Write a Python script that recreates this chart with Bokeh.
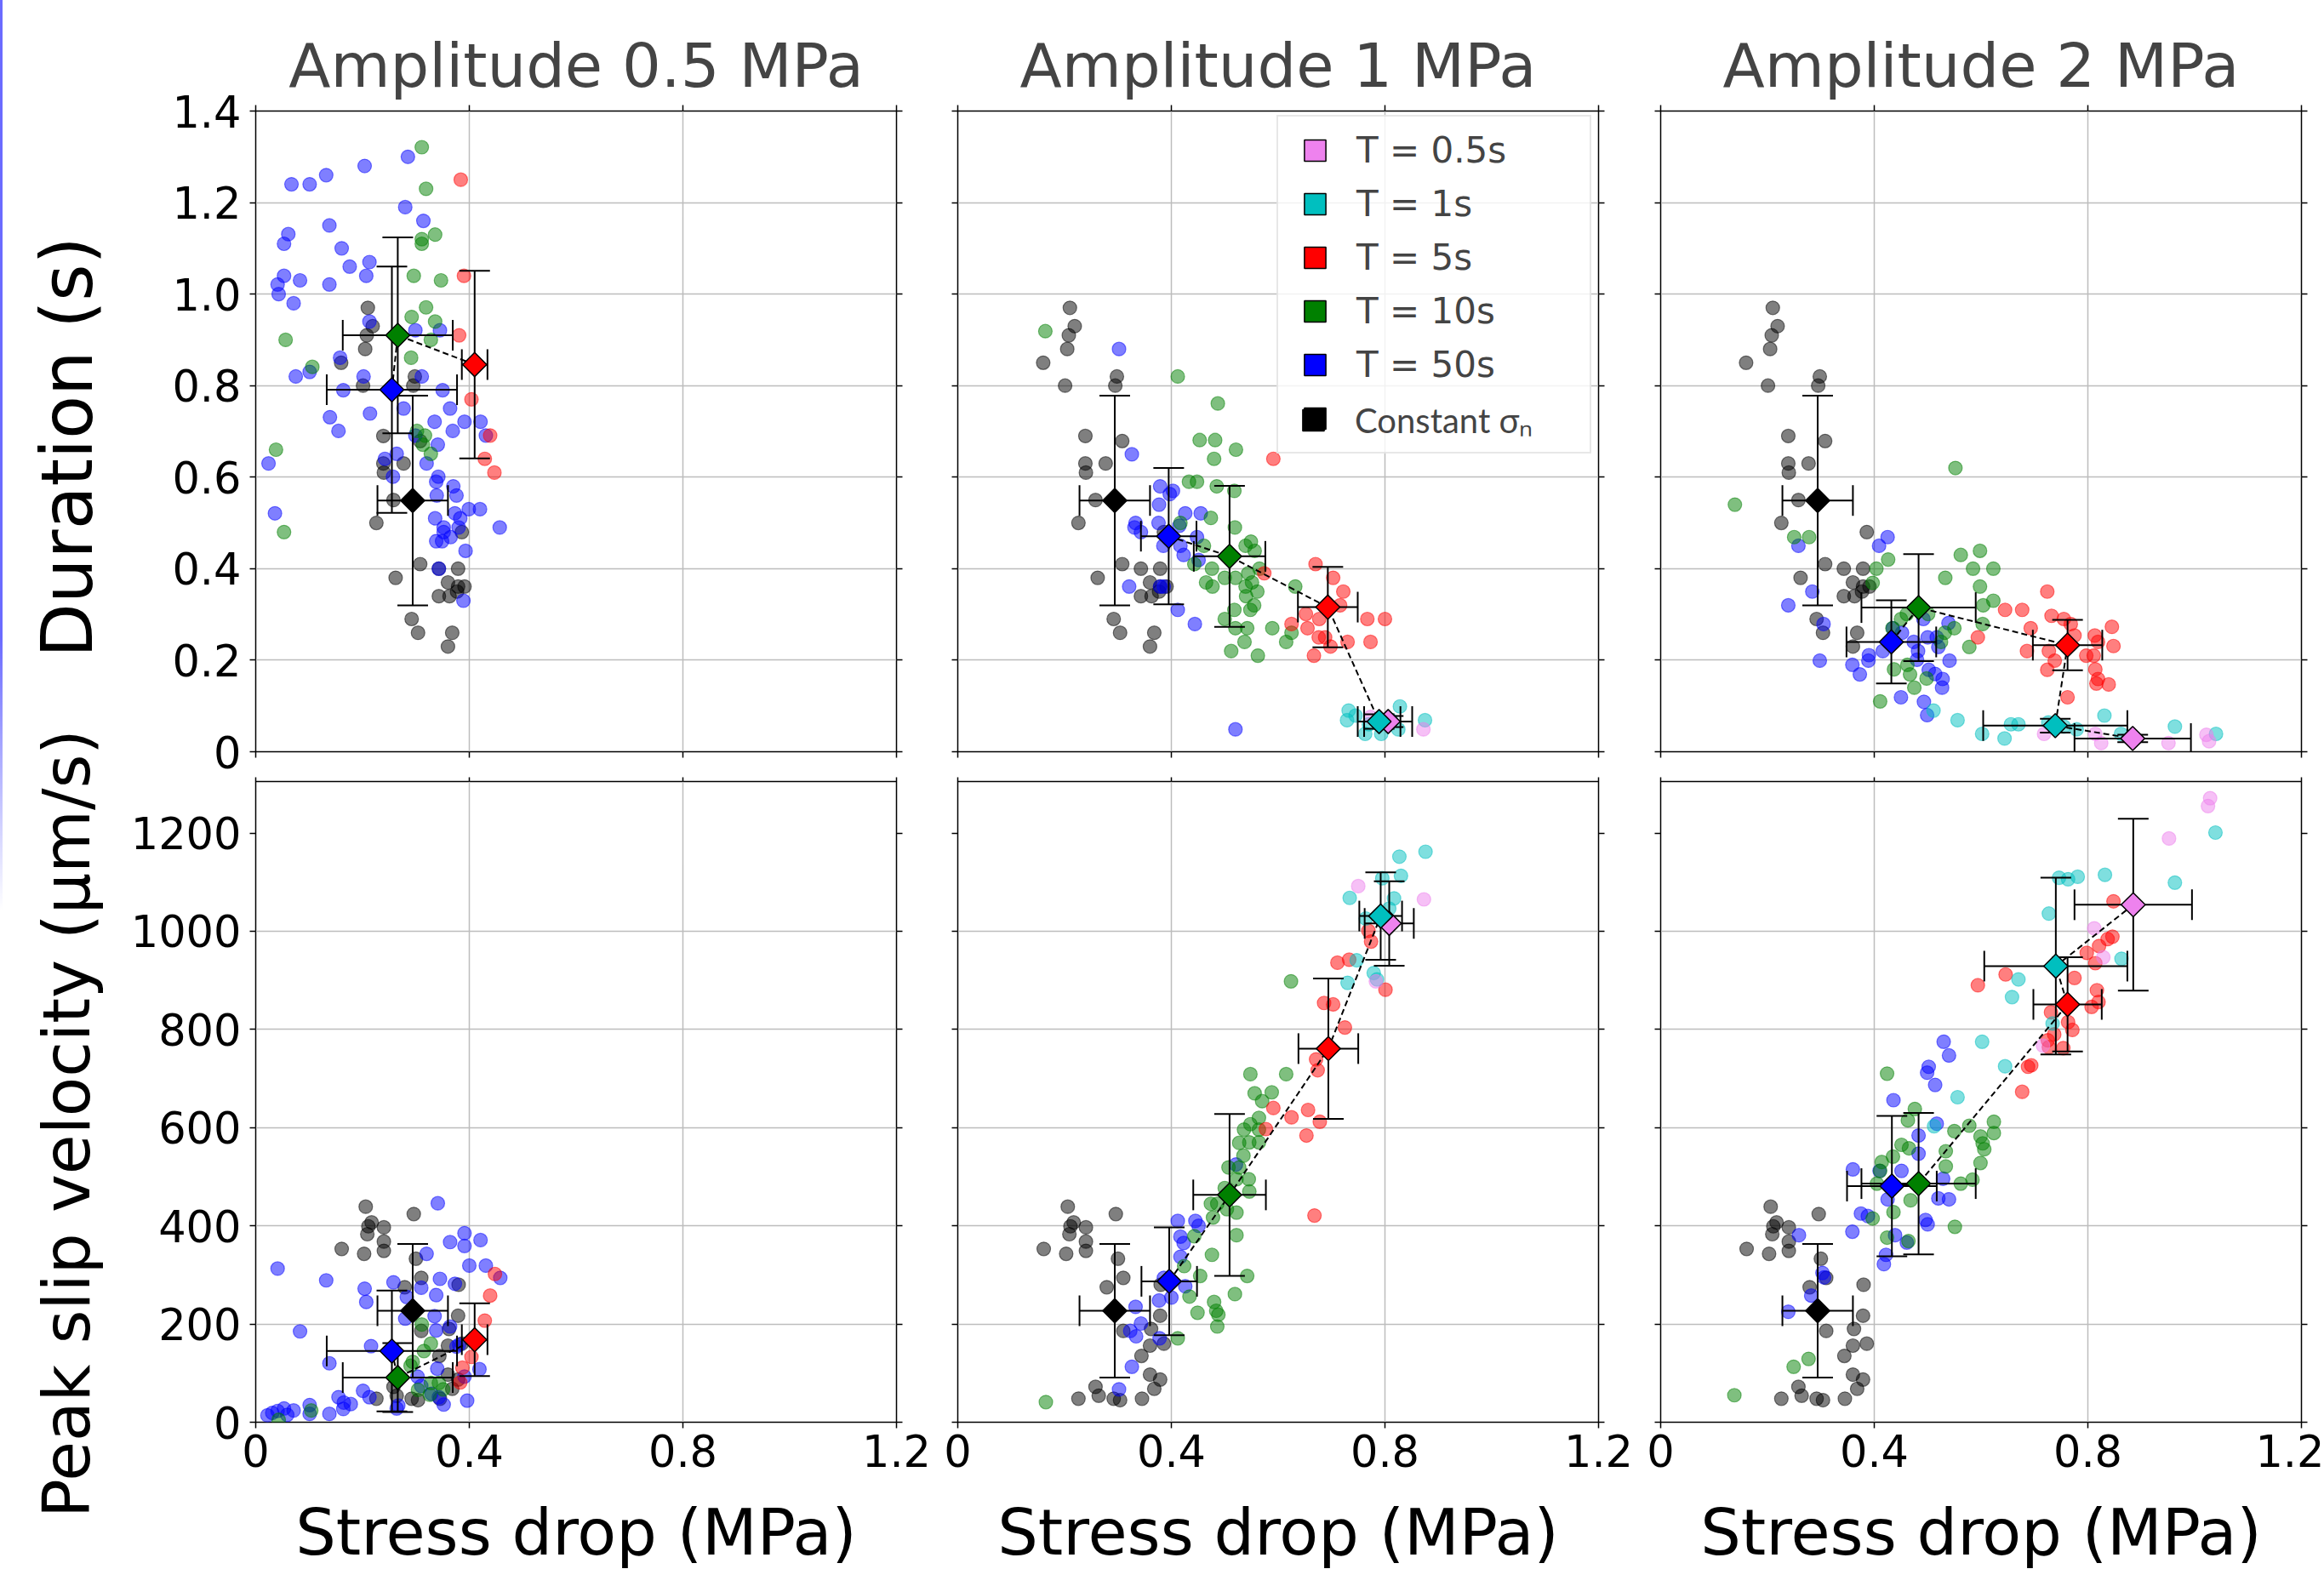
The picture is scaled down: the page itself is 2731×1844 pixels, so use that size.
import math
from bokeh.plotting import figure
from bokeh.models import (Range1d, FixedTicker, LinearAxis, Grid, Legend, LegendItem, Div)
from bokeh.layouts import row, column
from bokeh.core.properties import value
from bokeh.embed import file_html
from bokeh.resources import INLINE

# ---------------------------------------------------------------- data
COL_TITLES = ["Amplitude 0.5 MPa", "Amplitude 1 MPa", "Amplitude 2 MPa"]
X_LABEL = "Stress drop (MPa)"
Y_LABELS = ["Duration (s)", "Peak slip velocity (μm/s)"]
X_TICKS = [0, 0.4, 0.8, 1.2]
DUR_TICKS = [0, 0.2, 0.4, 0.6, 0.8, 1.0, 1.2, 1.4]
VEL_TICKS = [0, 200, 400, 600, 800, 1000, 1200]
SERIES = ["T05", "T1", "T5", "T10", "T50", "CONST"]
SERIES_LABELS = ["T = 0.5s", "T = 1s", "T = 5s", "T = 10s", "T = 50s", "Constant σₙ"]
SERIES_COLORS = ["violet", "#00bfbf", "red", "green", "blue", "black"]
LINE_ORDER = ["T50", "T10", "T5", "T1", "T05"]

# constant normal stress (same reference set in every column)
CONST_DUR = [(0.210, 0.970), (0.219, 0.930), (0.208, 0.910), (0.205, 0.880), (0.160, 0.850), (0.298, 0.820),
             (0.201, 0.800), (0.295, 0.800), (0.239, 0.690), (0.308, 0.679), (0.239, 0.630), (0.240, 0.610),
             (0.277, 0.630), (0.258, 0.550), (0.226, 0.500), (0.386, 0.480), (0.308, 0.410), (0.343, 0.400),
             (0.379, 0.400), (0.262, 0.380), (0.360, 0.370), (0.379, 0.361), (0.391, 0.361), (0.343, 0.340),
             (0.363, 0.340), (0.377, 0.350), (0.292, 0.290), (0.304, 0.260), (0.368, 0.260), (0.360, 0.230)]
CONST_VEL = [(0.206, 439), (0.296, 424), (0.217, 407), (0.211, 399), (0.240, 397), (0.209, 383), (0.240, 368),
             (0.161, 353), (0.240, 349), (0.203, 343), (0.300, 333), (0.310, 294), (0.279, 275), (0.380, 280),
             (0.362, 190), (0.379, 217), (0.310, 186), (0.344, 135), (0.360, 156), (0.386, 160), (0.360, 97),
             (0.379, 87), (0.368, 68), (0.258, 72), (0.226, 48), (0.264, 54), (0.292, 48), (0.304, 45), (0.345, 48)]
CONST_MEAN_DUR = (0.294, 0.549, 0.066, 0.229)
CONST_MEAN_VEL = (0.294, 227, 0.066, 136)

# Amplitude 0.5 MPa
A05_DUR_T50 = [(0.067, 1.240), (0.101, 1.240), (0.132, 1.260), (0.204, 1.280), (0.285, 1.300), (0.280, 1.190),
               (0.314, 1.160), (0.138, 1.150), (0.061, 1.131), (0.053, 1.110), (0.161, 1.100), (0.176, 1.060),
               (0.213, 1.070), (0.207, 1.040), (0.053, 1.040), (0.083, 1.030), (0.041, 1.021), (0.138, 1.021),
               (0.043, 1.000), (0.071, 0.980), (0.213, 0.940), (0.299, 0.921), (0.345, 0.921), (0.158, 0.861),
               (0.101, 0.830), (0.075, 0.820), (0.202, 0.820), (0.311, 0.820), (0.164, 0.790), (0.350, 0.790),
               (0.277, 0.750), (0.364, 0.750), (0.139, 0.731), (0.214, 0.739), (0.335, 0.721), (0.391, 0.721),
               (0.421, 0.721), (0.155, 0.701), (0.369, 0.701), (0.299, 0.691), (0.431, 0.691), (0.341, 0.671),
               (0.264, 0.651), (0.242, 0.640), (0.320, 0.630), (0.024, 0.630), (0.257, 0.601), (0.342, 0.601),
               (0.338, 0.590), (0.370, 0.580), (0.339, 0.560), (0.376, 0.560), (0.399, 0.530), (0.420, 0.530),
               (0.373, 0.521), (0.383, 0.510), (0.336, 0.510), (0.036, 0.521), (0.457, 0.490), (0.352, 0.490),
               (0.352, 0.480), (0.365, 0.469), (0.338, 0.460), (0.349, 0.460), (0.380, 0.490), (0.393, 0.439),
               (0.343, 0.400), (0.389, 0.330)]
A05_DUR_T10 = [(0.311, 1.321), (0.319, 1.230), (0.336, 1.130), (0.311, 1.120), (0.311, 1.110), (0.296, 1.040),
               (0.347, 1.030), (0.292, 0.950), (0.319, 0.971), (0.336, 0.940), (0.328, 0.900), (0.056, 0.900),
               (0.291, 0.861), (0.106, 0.841), (0.302, 0.701), (0.317, 0.691), (0.313, 0.671), (0.328, 0.651),
               (0.038, 0.660), (0.053, 0.480)]
A05_DUR_T5 = [(0.384, 1.250), (0.390, 1.040), (0.381, 0.910), (0.404, 0.770), (0.439, 0.691), (0.429, 0.640),
              (0.447, 0.610)]
A05_VEL_T50 = [(0.341, 446), (0.391, 385), (0.421, 371), (0.364, 367), (0.391, 359), (0.320, 343), (0.041, 313),
               (0.431, 319), (0.400, 319), (0.458, 294), (0.345, 292), (0.132, 289), (0.258, 285), (0.373, 282),
               (0.204, 272), (0.310, 274), (0.338, 259), (0.283, 255), (0.207, 245), (0.335, 216), (0.280, 211),
               (0.083, 185), (0.338, 187), (0.364, 195), (0.216, 155), (0.376, 154), (0.381, 158), (0.138, 120),
               (0.340, 109), (0.419, 108), (0.391, 93), (0.303, 93), (0.155, 51), (0.165, 40), (0.178, 37),
               (0.201, 64), (0.213, 51), (0.164, 27), (0.138, 17), (0.101, 35), (0.101, 17), (0.071, 24),
               (0.053, 28), (0.041, 23), (0.031, 19), (0.022, 14), (0.059, 15), (0.267, 34), (0.264, 28),
               (0.343, 51), (0.352, 36), (0.329, 58), (0.396, 44), (0.310, 74)]
A05_VEL_T10 = [(0.311, 199), (0.328, 160), (0.315, 145), (0.294, 123), (0.290, 115), (0.328, 80), (0.343, 80),
               (0.351, 67), (0.326, 56), (0.304, 66), (0.104, 24), (0.043, 5)]
A05_VEL_T5 = [(0.448, 302), (0.439, 258), (0.429, 207), (0.404, 133), (0.387, 111), (0.383, 81)]
# means: (stress drop, value, x error, y error)
A05_MEAN_DUR = {"T5": (0.410, 0.846, 0.024, 0.205), "T10": (0.266, 0.910, 0.103, 0.214),
                "T50": (0.255, 0.791, 0.122, 0.269)}
A05_MEAN_VEL = {"T5": (0.410, 168, 0.024, 74), "T10": (0.266, 91, 0.103, 70),
                "T50": (0.255, 145, 0.122, 123)}

# Amplitude 1 MPa
A1_DUR_T50 = [(0.302, 0.880), (0.326, 0.650), (0.379, 0.580), (0.403, 0.570), (0.397, 0.563), (0.377, 0.540),
              (0.426, 0.521), (0.455, 0.521), (0.333, 0.500), (0.331, 0.490), (0.343, 0.480), (0.376, 0.500),
              (0.415, 0.494), (0.448, 0.469), (0.417, 0.450), (0.423, 0.430), (0.451, 0.419), (0.385, 0.450),
              (0.321, 0.361), (0.379, 0.361), (0.386, 0.361), (0.412, 0.310), (0.444, 0.279), (0.520, 0.049)]
A1_DUR_T10 = [(0.164, 0.919), (0.412, 0.820), (0.487, 0.761), (0.453, 0.681), (0.482, 0.681), (0.521, 0.660),
              (0.480, 0.640), (0.433, 0.590), (0.448, 0.590), (0.485, 0.580), (0.518, 0.570), (0.474, 0.511),
              (0.417, 0.500), (0.519, 0.490), (0.461, 0.450), (0.539, 0.450), (0.549, 0.459), (0.556, 0.439),
              (0.443, 0.410), (0.565, 0.400), (0.544, 0.390), (0.476, 0.400), (0.500, 0.380), (0.520, 0.380),
              (0.551, 0.370), (0.465, 0.370), (0.477, 0.361), (0.539, 0.361), (0.632, 0.361), (0.540, 0.340),
              (0.561, 0.350), (0.555, 0.320), (0.548, 0.310), (0.518, 0.310), (0.500, 0.290), (0.520, 0.270),
              (0.542, 0.270), (0.589, 0.270), (0.615, 0.240), (0.537, 0.240), (0.512, 0.220), (0.562, 0.210),
              (0.625, 0.260)]
A1_DUR_T5 = [(0.591, 0.640), (0.670, 0.410), (0.703, 0.380), (0.574, 0.390), (0.722, 0.350), (0.716, 0.320),
             (0.652, 0.301), (0.677, 0.290), (0.767, 0.290), (0.800, 0.290), (0.625, 0.279), (0.655, 0.270),
             (0.676, 0.250), (0.688, 0.250), (0.730, 0.240), (0.773, 0.240), (0.698, 0.230), (0.667, 0.210)]
A1_DUR_T1 = [(0.732, 0.090), (0.828, 0.099), (0.875, 0.069), (0.729, 0.069), (0.763, 0.039), (0.793, 0.039),
             (0.825, 0.049), (0.745, 0.079), (0.770, 0.060), (0.811, 0.069)]
A1_DUR_T05 = [(0.872, 0.049), (0.773, 0.076), (0.802, 0.064)]
A1_VEL_T50 = [(0.521, 525), (0.412, 410), (0.445, 410), (0.451, 400), (0.417, 378), (0.423, 365), (0.417, 337),
              (0.386, 294), (0.426, 277), (0.377, 248), (0.333, 235), (0.343, 201), (0.323, 186), (0.334, 175),
              (0.378, 171), (0.326, 113), (0.302, 67), (0.400, 254)]
A1_VEL_T10 = [(0.624, 898), (0.548, 709), (0.615, 709), (0.556, 670), (0.588, 672), (0.570, 654), (0.564, 620),
              (0.548, 607), (0.564, 596), (0.536, 596), (0.527, 569), (0.546, 570), (0.564, 570), (0.535, 543),
              (0.507, 519), (0.527, 519), (0.522, 495), (0.545, 495), (0.500, 477), (0.546, 470), (0.474, 445),
              (0.486, 445), (0.478, 417), (0.522, 427), (0.504, 434), (0.522, 381), (0.443, 379), (0.476, 341),
              (0.424, 318), (0.454, 298), (0.542, 298), (0.434, 256), (0.519, 261), (0.480, 245), (0.449, 223),
              (0.484, 227), (0.488, 219), (0.486, 195), (0.412, 171), (0.165, 41)]
A1_VEL_T5 = [(0.801, 881), (0.769, 1001), (0.774, 979), (0.733, 942), (0.711, 936), (0.686, 854), (0.703, 851),
             (0.725, 804), (0.671, 739), (0.674, 717), (0.591, 640), (0.656, 636), (0.625, 621), (0.678, 612),
             (0.577, 597), (0.653, 584), (0.668, 421)]
A1_VEL_T1 = [(0.876, 1162), (0.827, 1152), (0.830, 1113), (0.795, 1108), (0.817, 1067), (0.734, 1068),
             (0.808, 1046), (0.764, 1026), (0.747, 941), (0.779, 915), (0.785, 902), (0.730, 895)]
A1_VEL_T05 = [(0.750, 1092), (0.873, 1065), (0.783, 898)]
A1_MEAN_DUR = {"T05": (0.806, 0.066, 0.045, 0.012), "T1": (0.789, 0.066, 0.040, 0.016),
               "T5": (0.693, 0.316, 0.056, 0.088), "T10": (0.509, 0.427, 0.067, 0.154),
               "T50": (0.395, 0.471, 0.052, 0.149)}
A1_MEAN_VEL = {"T05": (0.808, 1016, 0.046, 86), "T1": (0.792, 1031, 0.040, 89),
               "T5": (0.694, 761, 0.056, 143), "T10": (0.509, 463, 0.068, 165),
               "T50": (0.396, 287, 0.052, 110)}

# Amplitude 2 MPa
A2_DUR_T50 = [(0.425, 0.469), (0.409, 0.450), (0.258, 0.450), (0.284, 0.350), (0.239, 0.320), (0.298, 0.199),
              (0.359, 0.190), (0.373, 0.169), (0.389, 0.199), (0.390, 0.211), (0.416, 0.220), (0.435, 0.270),
              (0.452, 0.260), (0.474, 0.240), (0.482, 0.220), (0.492, 0.290), (0.500, 0.250), (0.517, 0.250),
              (0.520, 0.229), (0.539, 0.281), (0.541, 0.199), (0.502, 0.179), (0.514, 0.170), (0.528, 0.159),
              (0.527, 0.140), (0.450, 0.119), (0.493, 0.109), (0.499, 0.080), (0.305, 0.279), (0.480, 0.201)]
A2_DUR_T10 = [(0.552, 0.620), (0.139, 0.540), (0.250, 0.469), (0.278, 0.469), (0.426, 0.420), (0.404, 0.400),
              (0.397, 0.369), (0.562, 0.430), (0.598, 0.439), (0.585, 0.400), (0.623, 0.400), (0.533, 0.380),
              (0.598, 0.361), (0.604, 0.320), (0.623, 0.330), (0.603, 0.279), (0.450, 0.290), (0.461, 0.301),
              (0.501, 0.301), (0.550, 0.270), (0.532, 0.260), (0.525, 0.240), (0.578, 0.229), (0.462, 0.190),
              (0.437, 0.180), (0.467, 0.169), (0.498, 0.160), (0.475, 0.140), (0.411, 0.110), (0.434, 0.270)]
A2_DUR_T5 = [(0.724, 0.350), (0.645, 0.310), (0.677, 0.310), (0.732, 0.297), (0.755, 0.290), (0.693, 0.270),
             (0.845, 0.273), (0.768, 0.279), (0.775, 0.254), (0.813, 0.254), (0.819, 0.240), (0.848, 0.231),
             (0.686, 0.220), (0.727, 0.220), (0.738, 0.199), (0.797, 0.210), (0.811, 0.210), (0.814, 0.180),
             (0.724, 0.179), (0.819, 0.159), (0.816, 0.149), (0.839, 0.147), (0.762, 0.119), (0.594, 0.250)]
A2_DUR_T1 = [(0.511, 0.090), (0.556, 0.069), (0.602, 0.039), (0.644, 0.029), (0.656, 0.060), (0.670, 0.060),
             (0.831, 0.079), (0.963, 0.055), (1.040, 0.039), (0.862, 0.039), (0.726, 0.064), (0.779, 0.049),
             (0.755, 0.055)]
A2_DUR_T05 = [(0.718, 0.039), (0.825, 0.019), (0.951, 0.019), (1.022, 0.037), (1.027, 0.023), (0.814, 0.039)]
A2_VEL_T50 = [(0.530, 775), (0.540, 747), (0.502, 724), (0.499, 712), (0.514, 687), (0.436, 656), (0.517, 608),
              (0.483, 584), (0.483, 547), (0.360, 515), (0.410, 512), (0.451, 512), (0.529, 496), (0.425, 454),
              (0.520, 456), (0.540, 454), (0.375, 425), (0.388, 420), (0.359, 388), (0.496, 412), (0.500, 403),
              (0.439, 381), (0.461, 366), (0.259, 381), (0.422, 341), (0.418, 322), (0.303, 304), (0.306, 295),
              (0.282, 258), (0.239, 225)]
A2_VEL_T10 = [(0.424, 710), (0.476, 638), (0.463, 615), (0.578, 604), (0.624, 612), (0.624, 589), (0.550, 593),
              (0.451, 565), (0.465, 558), (0.599, 582), (0.603, 568), (0.606, 556), (0.534, 552), (0.435, 541),
              (0.414, 530), (0.599, 528), (0.534, 521), (0.411, 512), (0.584, 494), (0.562, 486), (0.405, 486),
              (0.468, 452), (0.436, 428), (0.551, 398), (0.424, 376), (0.464, 369), (0.277, 129), (0.249, 113),
              (0.138, 55), (0.397, 415)]
A2_VEL_T5 = [(0.848, 1061), (0.846, 989), (0.837, 984), (0.821, 970), (0.798, 956), (0.814, 935), (0.775, 905),
             (0.646, 912), (0.594, 890), (0.817, 880), (0.820, 856), (0.807, 846), (0.731, 835), (0.763, 815),
             (0.771, 799), (0.737, 790), (0.725, 778), (0.727, 764), (0.754, 762), (0.688, 724), (0.694, 727),
             (0.677, 673)]
A2_VEL_T1 = [(1.039, 1201), (0.963, 1099), (0.746, 1109), (0.763, 1106), (0.781, 1111), (0.832, 1115),
             (0.727, 1036), (0.670, 902), (0.658, 866), (0.602, 775), (0.645, 725), (0.556, 662), (0.512, 603),
             (0.863, 944), (0.734, 812)]
A2_VEL_T05 = [(1.029, 1271), (1.025, 1255), (0.952, 1189), (0.812, 1006), (0.829, 947), (0.716, 767)]
A2_MEAN_DUR = {"T05": (0.884, 0.029, 0.109, 0.008), "T1": (0.739, 0.057, 0.135, 0.015),
               "T5": (0.762, 0.233, 0.065, 0.055), "T10": (0.483, 0.315, 0.107, 0.117),
               "T50": (0.432, 0.240, 0.084, 0.091)}
A2_MEAN_VEL = {"T05": (0.885, 1054, 0.110, 175), "T1": (0.740, 929, 0.134, 180),
               "T5": (0.762, 851, 0.064, 96), "T10": (0.483, 486, 0.107, 144),
               "T50": (0.433, 481, 0.084, 143)}

# ---------------------------------------------------------------- style / layout
COLOR = dict(zip(SERIES, SERIES_COLORS))
LABEL = dict(zip(SERIES, SERIES_LABELS))
FONT = "DejaVu Sans"
PAGE_W, PAGE_H = 2731, 1844
EDGE_W = 3                      # thin blue strip at the left page edge
LAB_W = 140                     # column holding the y titles
FW = FH = 753                   # frame size of every panel
LEFT_B = [157, 22, 28]
RIGHT_B = [50, 45, 27]
TOP_B = [130, 5]
STRIP_H = 93                    # strip holding the x titles
BOT_B = [30, 173 - STRIP_H]
GRID_COLOR = "#bdbdbd"


def add_axis(p, loc, ticks, overrides, show, standoff=7, tick_out=7):
    ax = LinearAxis(ticker=FixedTicker(ticks=ticks), major_label_overrides=overrides)
    ax.axis_line_color = None
    ax.major_tick_in = 0
    ax.major_tick_out = tick_out
    ax.major_tick_line_width = 1.5
    ax.major_tick_line_color = "black"
    ax.minor_tick_line_color = None
    if show:
        ax.major_label_standoff = standoff
        ax.major_label_text_font = FONT
        ax.major_label_text_font_size = "51px"
        ax.major_label_text_color = "black"
    else:
        # shared-axis tick labels are kept but hidden, as in the source figure
        ax.major_label_standoff = 0
        ax.major_label_text_font_size = "0px"
    p.add_layout(ax, loc)
    return ax


def title_axis(p, loc, text, size, standoff):
    """An axis carrying only a title (no ticks, no tick labels)."""
    ax = LinearAxis(ticker=FixedTicker(ticks=[]), axis_label=text)
    ax.axis_line_color = None
    ax.major_tick_out = 0
    ax.major_tick_in = 0
    ax.minor_tick_line_color = None
    ax.major_label_standoff = 0
    ax.major_label_text_font_size = "0px"
    ax.major_label_text_color = None
    ax.axis_label_text_font = FONT
    ax.axis_label_text_font_size = size
    ax.axis_label_text_font_style = "normal"
    ax.axis_label_text_color = "black"
    ax.axis_label_standoff = standoff
    p.add_layout(ax, loc)
    return ax


def bare_figure(**kw):
    p = figure(x_range=Range1d(0, 1), y_range=Range1d(0, 1), x_axis_type=None, y_axis_type=None,
               output_backend="svg", toolbar_location=None, title=None, outline_line_color=None,
               background_fill_color="white", border_fill_color="white", **kw)
    return p


def make_panel(ci, ri, scatter_sets, means, ymax, yticks, yover):
    kw = dict(frame_width=FW, frame_height=FH, x_range=Range1d(0, 1.2), y_range=Range1d(0, ymax),
              x_axis_type=None, y_axis_type=None, output_backend="svg", toolbar_location=None,
              min_border_left=LEFT_B[ci], min_border_right=RIGHT_B[ci],
              min_border_top=TOP_B[ri], min_border_bottom=BOT_B[ri],
              background_fill_color="white", border_fill_color="white")
    if ri == 0:
        p = figure(title=COL_TITLES[ci], **kw)
        p.title.text_font = FONT
        p.title.text_font_size = "72px"
        p.title.text_font_style = "normal"
        p.title.align = "center"
        p.title.standoff = 9
    else:
        p = figure(title=None, **kw)
    p.outline_line_color = "black"
    p.outline_line_width = 1.5

    p.add_layout(Grid(dimension=0, ticker=FixedTicker(ticks=X_TICKS[1:-1]),
                      grid_line_color=GRID_COLOR, grid_line_width=1.5))
    p.add_layout(Grid(dimension=1, ticker=FixedTicker(ticks=yticks[1:-1]),
                      grid_line_color=GRID_COLOR, grid_line_width=1.5))

    add_axis(p, "below", X_TICKS, {0: "0"}, ri == 1, standoff=7)
    add_axis(p, "left", yticks, yover, ci == 0, standoff=10)
    add_axis(p, "above", X_TICKS, {}, False, tick_out=7 if ri == 0 else TOP_B[1])
    add_axis(p, "right", yticks, {}, False)

    # individual events
    for k in ["CONST", "T50", "T10", "T5", "T1", "T05"]:
        pts = scatter_sets.get(k)
        if not pts:
            continue
        xs = [a for a, b in pts]
        ys = [b for a, b in pts]
        p.scatter(xs, ys, size=16, fill_color=COLOR[k], line_color=COLOR[k],
                  fill_alpha=0.5, line_alpha=0.5, line_width=1.2)

    # error bars of the means
    keys = [k for k in SERIES if k in means]
    mx = [means[k][0] for k in keys]
    my = [means[k][1] for k in keys]
    ex = [means[k][2] for k in keys]
    ey = [means[k][3] for k in keys]
    lo_y = [b - e for b, e in zip(my, ey)]
    hi_y = [b + e for b, e in zip(my, ey)]
    lo_x = [a - e for a, e in zip(mx, ex)]
    hi_x = [a + e for a, e in zip(mx, ex)]
    p.segment(mx, lo_y, mx, hi_y, line_color="black", line_width=2)
    p.segment(lo_x, my, hi_x, my, line_color="black", line_width=2)
    p.scatter(mx + mx, lo_y + hi_y, marker="dash", size=36, line_color="black", line_width=2)
    p.scatter(lo_x + hi_x, my + my, marker="dash", angle=math.pi / 2, size=36,
              line_color="black", line_width=2)

    # dashed path through the means (decreasing period)
    lk = [k for k in LINE_ORDER if k in means]
    p.line([means[k][0] for k in lk], [means[k][1] for k in lk], line_color="black",
           line_width=2, line_dash="7 4")

    # mean markers (matplotlib-like diamonds)
    rends = {}
    for k in keys:
        rends[k] = p.scatter([means[k][0]], [means[k][1]], marker="square", angle=math.pi / 4, size=20,
                             fill_color=COLOR[k], line_color="black", line_width=1.5)
    return p, rends


panels = [
    [({"CONST": CONST_DUR, "T50": A05_DUR_T50, "T10": A05_DUR_T10, "T5": A05_DUR_T5},
      dict(A05_MEAN_DUR, CONST=CONST_MEAN_DUR)),
     ({"CONST": CONST_DUR, "T50": A1_DUR_T50, "T10": A1_DUR_T10, "T5": A1_DUR_T5, "T1": A1_DUR_T1,
       "T05": A1_DUR_T05}, dict(A1_MEAN_DUR, CONST=CONST_MEAN_DUR)),
     ({"CONST": CONST_DUR, "T50": A2_DUR_T50, "T10": A2_DUR_T10, "T5": A2_DUR_T5, "T1": A2_DUR_T1,
       "T05": A2_DUR_T05}, dict(A2_MEAN_DUR, CONST=CONST_MEAN_DUR))],
    [({"CONST": CONST_VEL, "T50": A05_VEL_T50, "T10": A05_VEL_T10, "T5": A05_VEL_T5},
      dict(A05_MEAN_VEL, CONST=CONST_MEAN_VEL)),
     ({"CONST": CONST_VEL, "T50": A1_VEL_T50, "T10": A1_VEL_T10, "T5": A1_VEL_T5, "T1": A1_VEL_T1,
       "T05": A1_VEL_T05}, dict(A1_MEAN_VEL, CONST=CONST_MEAN_VEL)),
     ({"CONST": CONST_VEL, "T50": A2_VEL_T50, "T10": A2_VEL_T10, "T5": A2_VEL_T5, "T1": A2_VEL_T1,
       "T05": A2_VEL_T05}, dict(A2_MEAN_VEL, CONST=CONST_MEAN_VEL))],
]

figs = [[None] * 3, [None] * 3]
legend_rends = None
for ri in range(2):
    for ci in range(3):
        sets, means = panels[ri][ci]
        if ri == 0:
            p, r = make_panel(ci, ri, sets, means, 1.4, DUR_TICKS, {0: "0", 1.0: "1.0"})
        else:
            p, r = make_panel(ci, ri, sets, means, 1305, VEL_TICKS, {})
        figs[ri][ci] = p
        if ri == 0 and ci == 1:
            legend_rends = r

# ---------------------------------------------------------------- legend (top middle panel)
# two stacked legends share one box: the last entry uses a different typeface
p12 = figs[0][1]
LEG_KW = dict(location=(375, 350), padding=8, spacing=0, glyph_width=70, glyph_height=63,
              label_standoff=14, label_width=266, label_height=63, margin=0)
items = [LegendItem(label=value(LABEL[k]), renderers=[legend_rends[k]]) for k in SERIES[:5]]
items.append(LegendItem(label=value(" "), renderers=[legend_rends["CONST"]]))
legA = Legend(items=items, label_text_font=FONT, label_text_font_size="42px",
              border_line_color="#d0d0d0", border_line_width=2, background_fill_color="white",
              background_fill_alpha=0.8, **LEG_KW)
legB = Legend(items=[LegendItem(label=value(LABEL["CONST"]), renderers=[legend_rends["CONST"]])],
              label_text_font="Lato", label_text_font_size="40px", border_line_alpha=0,
              background_fill_alpha=0, **LEG_KW)
p12.add_layout(legA)
p12.add_layout(legB)

# ---------------------------------------------------------------- shared axis titles
# y titles: thin frames at the right edge of the title column, centred where the titles sit
TOP_LAB_H = 850
lab_top = bare_figure(frame_width=1, frame_height=650, min_border_left=LAB_W - 1, min_border_right=0,
                      min_border_top=200, min_border_bottom=TOP_LAB_H - 850)
title_axis(lab_top, "left", Y_LABELS[0], "83px", 15)
lab_bot = bare_figure(frame_width=1, frame_height=900, min_border_left=LAB_W - 1, min_border_right=0,
                      min_border_top=20, min_border_bottom=PAGE_H - TOP_LAB_H - 920)
title_axis(lab_bot, "left", Y_LABELS[1], "76px", 20)

# x titles: one thin strip under each column, sharing that column's frame placement
strips = []
for ci in range(3):
    s = bare_figure(frame_width=FW, frame_height=1, min_border_left=LEFT_B[ci], min_border_right=RIGHT_B[ci],
                    min_border_top=2, min_border_bottom=STRIP_H - 3)
    title_axis(s, "below", X_LABEL, "75px", 2)
    strips.append(s)

edge = Div(text="", width=EDGE_W, height=1070, margin=0,
           styles={"background": "linear-gradient(to bottom, #6b6bff 0%, #6b6bff 70%, #ffffff 100%)"})
grid = column(row(*figs[0], spacing=0), row(*figs[1], spacing=0), row(*strips, spacing=0), spacing=0)
labels = column(lab_top, lab_bot, spacing=0)
layout = row(edge, labels, grid, spacing=0)

open("out.html", "w").write(file_html(layout, INLINE))
